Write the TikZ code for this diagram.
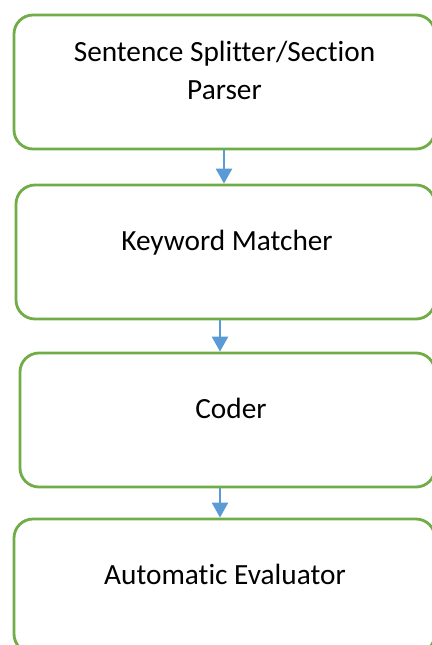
\documentclass[tikz,border=0pt]{standalone}
\usepackage{fontspec}
\setmainfont[Ligatures=NoCommon]{Carlito}
\usetikzlibrary{arrows.meta}
\definecolor{boxgreen}{HTML}{70AD47}
\definecolor{arrblue}{HTML}{5B9BD5}
\tikzset{
  stagebox/.style={draw=boxgreen, line width=2.8pt, rounded corners=19pt, rectangle, minimum height=134pt, fill=white},
  stagetext/.style={font=\fontsize{29.3}{38}\selectfont, text=black, anchor=base, align=center, inner sep=0pt},
  flow/.style={draw=arrblue, line width=2.4pt, -{Triangle[width=16pt,length=15pt]}}
}
\begin{document}
\begin{tikzpicture}[x=1pt,y=-1pt]
\useasboundingbox (0,0) rectangle (431,645);
\node[stagebox, minimum width=421pt] (b1) at (224.5,82) {};
\node[stagebox, minimum width=419pt] (b2) at (225.5,252) {};
\node[stagebox, minimum width=415pt] (b3) at (227.5,420) {};
\node[stagebox, minimum width=421pt] (b4) at (224.5,586) {};
\node[stagetext] (t1) at (224.5,99) {Sentence Splitter/Section\\Parser};
\node[stagetext] (t2) at (227,250) {Keyword Matcher};
\node[stagetext] (t3) at (231,418) {Coder};
\node[stagetext] (t4) at (225,584) {Automatic Evaluator};
\coordinate (a1) at (224,0);
\coordinate (a2) at (220,0);
\draw[flow] (b1.south -| a1) -- (b2.north -| a1);
\draw[flow] (b2.south -| a2) -- (b3.north -| a2);
\draw[flow] (b3.south -| a2) -- (b4.north -| a2);
\end{tikzpicture}
\end{document}
